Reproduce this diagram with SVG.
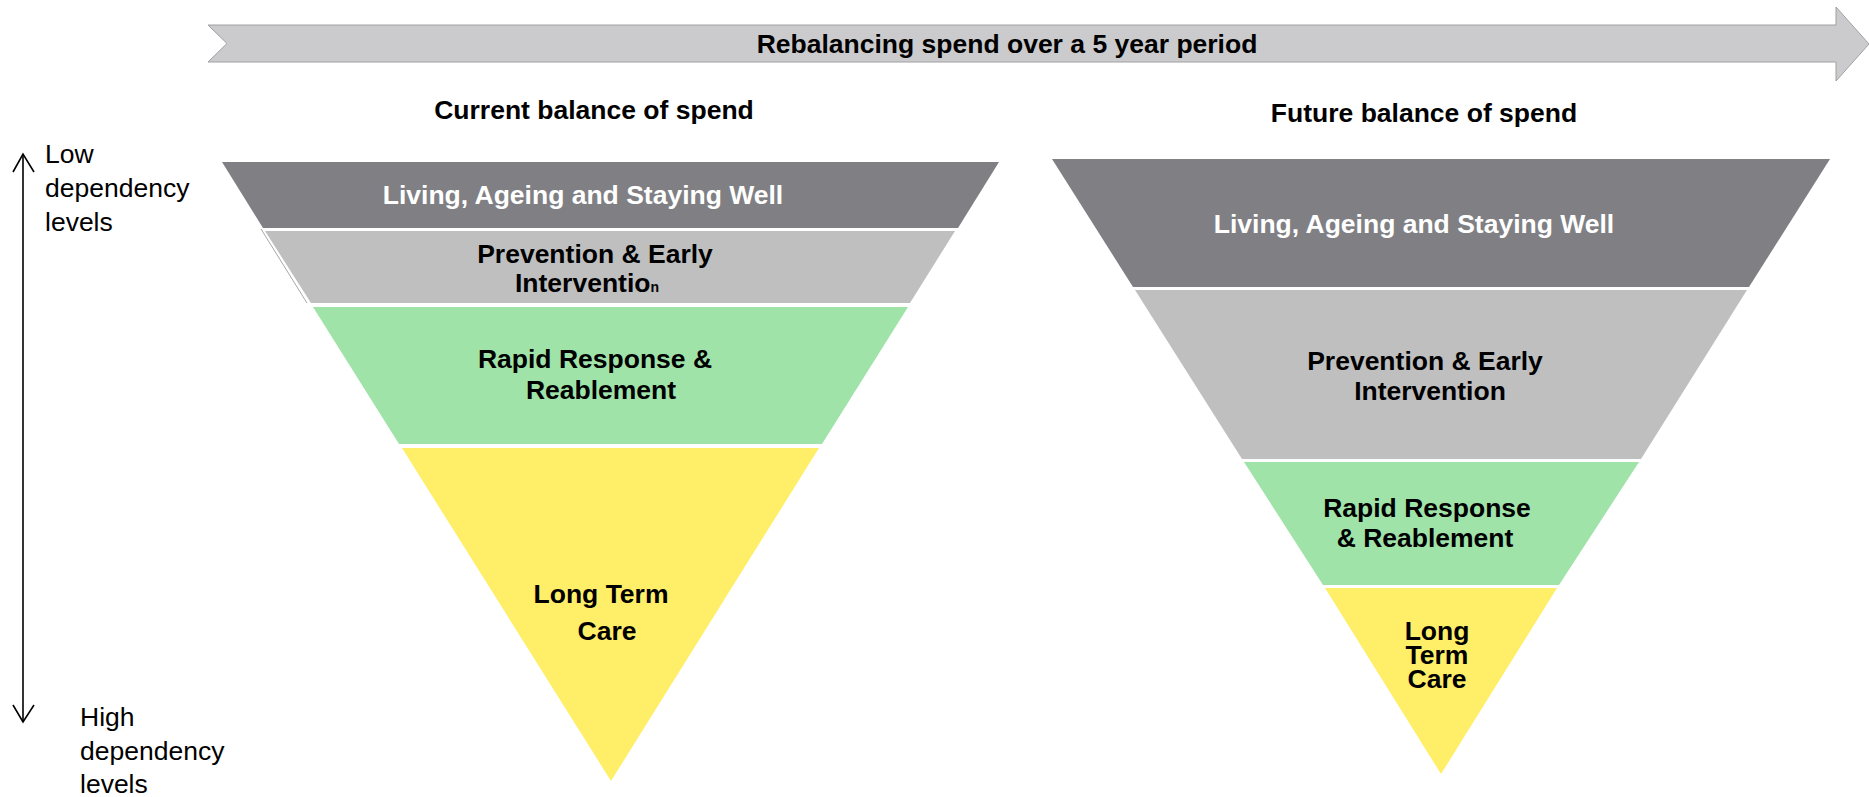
<svg xmlns="http://www.w3.org/2000/svg" width="1869" height="797" viewBox="0 0 1869 797">
<style>
text{font-family:"Liberation Sans",Arial,sans-serif}
.b{font-weight:bold;font-size:26.5px;text-anchor:middle;fill:#000}
.w{fill:#fff}
.r{font-size:26.5px;fill:#000}
.dark{fill:#807F84}
.light{fill:#BFBFBF}
.green{fill:#9FE3A9}
.yellow{fill:#FFEE67}
.ax{stroke:#000;stroke-width:1.6;fill:none}
</style>
<rect width="1869" height="797" fill="#fff"/>
<g id="timeline-arrow">
<polygon points="208,25 1836,25 1836,7 1869,44 1836,81 1836,62 208,62 227,43.5" fill="#CBCBCD" stroke="#A0A0A2" stroke-width="1"/>
<text class="b" x="1007" y="53">Rebalancing spend over a 5 year period</text>
</g>
<g id="title-current"><text class="b" x="594" y="119">Current balance of spend</text></g>
<g id="title-future"><text class="b" x="1424" y="122">Future balance of spend</text></g>
<g id="label-low">
<text class="r" x="45" y="163">Low</text>
<text class="r" x="45" y="197">dependency</text>
<text class="r" x="45" y="231">levels</text>
</g>
<g id="label-high">
<text class="r" x="80" y="726">High</text>
<text class="r" x="80" y="760">dependency</text>
<text class="r" x="80" y="793">levels</text>
</g>
<g id="connectors">
<line class="ax" x1="23" y1="154" x2="23" y2="722"/>
<polyline class="ax" points="13,172 23,154 34,172"/>
<polyline class="ax" points="13,705 23,722 34,705"/>
</g>
<g id="current-living">
<polygon class="dark" points="222,162 999,162 958,228 263,228"/>
<text class="b w" x="583" y="204">Living, Ageing and Staying Well</text>
</g>
<g id="current-prevention">
<line x1="261" y1="229" x2="307" y2="303" stroke="#A8A8A8" stroke-width="1"/>
<polygon class="light" points="265,231 955,231 910,303 311,303"/>
<text class="b" x="595" y="263">Prevention &amp; Early</text>
<text class="b" x="587" y="292">Interventio<tspan font-size="14">n</tspan></text>
</g>
<g id="current-rapid">
<polygon class="green" points="313,307 908,307 822,444 399,444"/>
<text class="b" x="595" y="368">Rapid Response &amp;</text>
<text class="b" x="601" y="399">Reablement</text>
</g>
<g id="current-longterm">
<polygon class="yellow" points="402,448 819,448 611,781"/>
<text class="b" x="601" y="603">Long Term</text>
<text class="b" x="607" y="640">Care</text>
</g>
<g id="future-living">
<polygon class="dark" points="1052,159 1830,159 1749,287 1133,287"/>
<text class="b w" x="1414" y="233">Living, Ageing and Staying Well</text>
</g>
<g id="future-prevention">
<polygon class="light" points="1135,290 1747,290 1641,459 1242,459"/>
<text class="b" x="1425" y="370">Prevention &amp; Early</text>
<text class="b" x="1430" y="400">Intervention</text>
</g>
<g id="future-rapid">
<polygon class="green" points="1244,462 1639,462 1559,585 1323,585"/>
<text class="b" x="1427" y="517">Rapid Response</text>
<text class="b" x="1425" y="547">&amp; Reablement</text>
</g>
<g id="future-longterm">
<polygon class="yellow" points="1325,588 1557,588 1441,774"/>
<text class="b" x="1437" y="640">Long</text>
<text class="b" x="1437" y="664">Term</text>
<text class="b" x="1437" y="688">Care</text>
</g>
</svg>
